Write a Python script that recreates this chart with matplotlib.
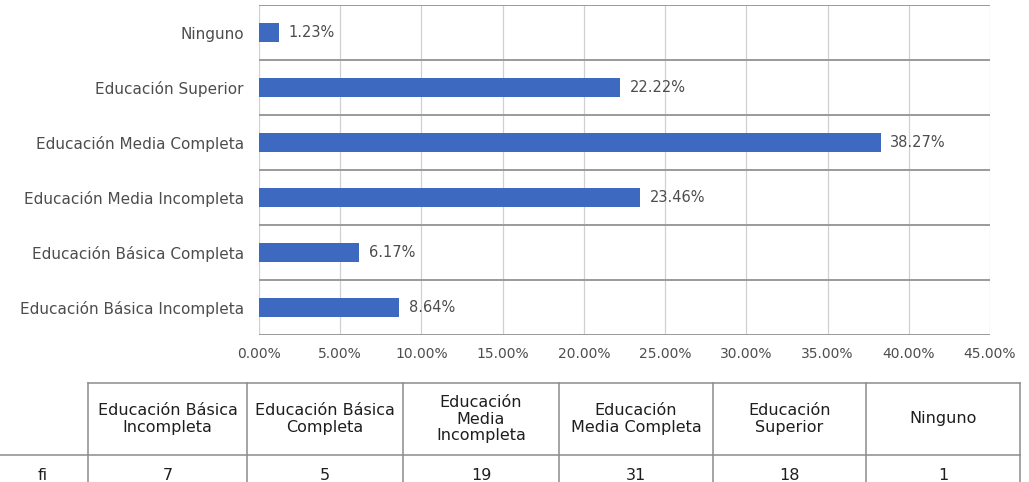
import matplotlib.pyplot as plt
from matplotlib.ticker import FuncFormatter, MultipleLocator

# data
categories = ["Educación Básica Incompleta", "Educación Básica Completa",
              "Educación Media Incompleta", "Educación Media Completa",
              "Educación Superior", "Ninguno"]
percentages = [8.64, 6.17, 23.46, 38.27, 22.22, 1.23]
table_headers = ["Educación Básica\nIncompleta", "Educación Básica\nCompleta",
                 "Educación\nMedia\nIncompleta", "Educación\nMedia Completa",
                 "Educación\nSuperior", "Ninguno"]
fi_label = "fi"
fi_values = [7, 5, 19, 31, 18, 1]

W, H = 1029, 482
fig = plt.figure(figsize=(W / 100, H / 100), dpi=100)
fig.patch.set_facecolor("white")

bar_color = "#3d69c1"
text_color = "#4d4d4d"
chart_font = "DejaVu Sans"

# bar chart
ax = fig.add_axes([259 / W, 1 - 335 / H, 731 / W, 330 / H])
ypos = range(len(categories))
ax.barh(ypos, percentages, height=0.35, color=bar_color, zorder=3)
for y, v in zip(ypos, percentages):
    ax.text(v + 0.6, y, f"{v:.2f}%", va="center", ha="left",
            fontsize=10.5, color=text_color, family=chart_font)

ax.set_xlim(0, 45)
ax.set_ylim(-0.5, len(categories) - 0.5)
ax.xaxis.set_major_locator(MultipleLocator(5))
ax.xaxis.set_major_formatter(FuncFormatter(lambda x, _: f"{x:.2f}%"))
ax.set_yticks(list(ypos))
ax.set_yticklabels(categories)
ax.set_yticks([i - 0.5 for i in range(len(categories) + 1)], minor=True)
ax.grid(axis="x", which="major", color="#d0d0d0", lw=0.9, zorder=0)
ax.grid(axis="y", which="minor", color="#9a9a9a", lw=1.4, zorder=1)
ax.tick_params(axis="both", which="both", length=0)
ax.tick_params(axis="x", pad=9)
ax.tick_params(axis="y", pad=11)
for lbl in ax.get_xticklabels():
    lbl.set_family(chart_font)
    lbl.set_fontsize(10)
    lbl.set_color(text_color)
for lbl in ax.get_yticklabels():
    lbl.set_family(chart_font)
    lbl.set_fontsize(11)
    lbl.set_color(text_color)
for s in ax.spines.values():
    s.set_visible(False)

# frequency table below the chart
tab = fig.add_axes([0, 0, 1, 1])
tab.set_xlim(0, W)
tab.set_ylim(H, 0)
tab.axis("off")

col_edges = [-2, 88, 247, 403, 559, 713, 866, 1020]
top, mid, bottom = 383, 455, 500
line_kw = dict(color="#8c8c8c", lw=1.1)

tab.plot([col_edges[1], col_edges[-1]], [top, top], **line_kw)
tab.plot([col_edges[0], col_edges[-1]], [mid, mid], **line_kw)
for i, x in enumerate(col_edges):
    y0 = top if i >= 1 else mid
    tab.plot([x, x], [y0, bottom], **line_kw)

table_font = "DejaVu Sans"
for i, (hdr, val) in enumerate(zip(table_headers, fi_values)):
    xc = (col_edges[i + 1] + col_edges[i + 2]) / 2
    tab.text(xc, (top + mid) / 2, hdr, ha="center", va="center",
             fontsize=11.5, color="#1e1e1e", family=table_font, linespacing=1.15)
    tab.text(xc, 475, str(val), ha="center", va="center",
             fontsize=11.5, color="#1e1e1e", family=table_font)
tab.text((col_edges[0] + col_edges[1]) / 2, 475, fi_label, ha="center",
         va="center", fontsize=11.5, color="#1e1e1e", family=table_font)

fig.savefig("out.png", dpi=100)
